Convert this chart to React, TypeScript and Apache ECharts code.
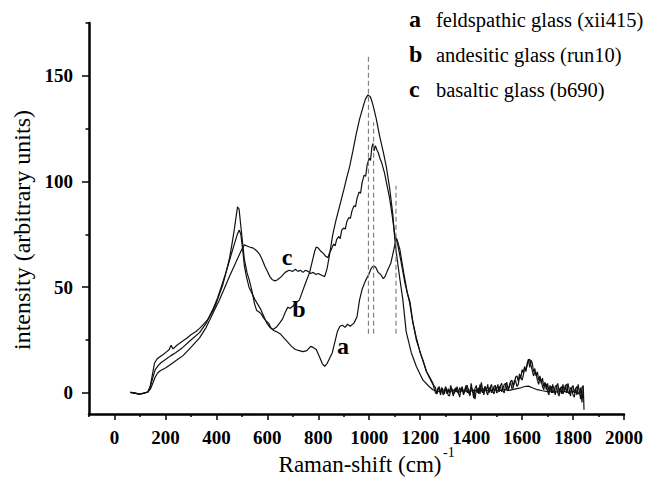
import React, { useEffect, useRef } from "react";
import * as echarts from "echarts";

const xMajorTicks = [0, 200, 400, 600, 800, 1000, 1200, 1400, 1600, 1800, 2000];
const xMinorTicks = [-100, 100, 300, 500, 700, 900, 1100, 1300, 1500, 1700, 1900];
const yMajorTicks = [0, 50, 100, 150];
const yMinorTicks = [25, 75, 125, 175];

const xTitle = "Raman-shift (cm)";
const xTitleSup = "-1";
const yTitle = "intensity (arbitrary units)";

const legendKeys = ["a", "b", "c"];
const legendNames = ["feldspathic glass (xii415)", "andesitic glass (run10)", "basaltic glass (b690)"];

// reference lines (x position, top value), all start at the same bottom value
const refLineX = [997, 1017, 1105];
const refLineTop = [160, 128, 98];
const refLineBottom = 28;

// a: feldspathic glass
const curveA: [number, number][] = [
  [62, 0.2], [80, 0], [98, -0.6], [115, -0.3], [131, 0.5], [140, 3], [148, 8], [157, 14], [167, 16], [177, 17],
  [190, 18], [205, 19.5], [215, 20.5], [222, 22.5], [230, 20.8], [245, 22.5], [268, 24.5], [285, 26], [300, 27.5],
  [320, 29], [334, 30.5], [350, 32.5], [365, 34.5], [380, 37.5], [395, 41], [410, 46], [425, 51], [440, 58],
  [452, 64], [462, 71], [470, 77], [477, 83], [483, 88], [489, 87], [495, 80], [502, 72], [510, 63], [520, 57],
  [530, 53], [540, 48], [550, 42], [558, 39], [565, 38.5], [575, 37.5], [585, 35.5], [595, 34], [605, 33],
  [615, 30.5], [625, 29.5], [635, 29], [650, 28], [665, 26], [680, 24], [695, 22], [710, 20.5], [725, 20],
  [740, 19.5], [755, 20], [770, 22], [780, 21.5], [792, 20.5], [805, 17], [815, 14], [825, 12.5], [835, 14],
  [845, 16.5], [855, 19], [865, 24], [875, 29], [885, 31.5], [895, 32], [905, 31], [915, 32.5], [925, 31.5],
  [940, 33], [952, 36], [962, 44], [972, 49], [985, 53], [998, 56], [1008, 59], [1016, 60], [1025, 59.5],
  [1035, 57], [1045, 56], [1055, 54], [1062, 55], [1072, 58], [1085, 61.5], [1095, 67], [1102, 71], [1108, 73],
  [1120, 68], [1135, 57], [1150, 47], [1160, 43], [1172, 33], [1185, 25], [1198, 20], [1211, 15], [1225, 10],
  [1237, 7], [1250, 4], [1260, 2.5], [1265, -0.5], [1270, 1.5], [1275, 3], [1280, 0], [1285, 2.5], [1290, -1],
  [1295, 1], [1300, 3], [1305, -0.5], [1310, 2], [1315, 0], [1320, 3.5], [1325, 1], [1330, -1.5], [1335, 2],
  [1340, 0.5], [1345, 3], [1350, -0.5], [1355, 2.5], [1360, 1], [1365, 3], [1370, -1], [1375, 1.5], [1380, 3.5],
  [1385, 0], [1390, 2], [1395, -1.5], [1400, 4.5], [1405, 1], [1410, -2.5], [1415, 2], [1420, 3.5], [1425, 0],
  [1430, 2.5], [1435, -0.5], [1440, 5], [1445, 1.5], [1450, -1], [1455, 3], [1460, 1], [1465, 4], [1470, 0],
  [1475, 2.5], [1480, 4], [1485, 0.5], [1490, -0.5], [1495, 3], [1500, 1.5], [1505, 4], [1510, 0.5], [1515, 3.5],
  [1520, 4.5], [1525, 1], [1530, 0], [1535, 3.5], [1540, 5], [1545, 1.5], [1550, 3], [1555, 5.5], [1560, 6],
  [1565, 3], [1570, 5], [1575, 7.5], [1580, 8], [1585, 5.5], [1590, 9], [1595, 7], [1600, 11], [1605, 9.5],
  [1610, 12.5], [1615, 10], [1620, 14], [1625, 16], [1630, 12], [1635, 15.5], [1640, 14], [1645, 10], [1650, 11.5],
  [1655, 8], [1660, 10], [1665, 6], [1670, 8], [1675, 4.5], [1680, 7], [1685, 3], [1690, 5], [1695, 1.5],
  [1700, 4.5], [1705, 1], [1710, 3.5], [1715, 0], [1720, 4], [1725, 1.5], [1730, -1], [1735, 3], [1740, 4.5],
  [1745, 0.5], [1750, 2.5], [1755, -0.5], [1760, 4], [1765, 1], [1770, 3], [1775, 0], [1780, 4.5], [1785, 1.5],
  [1790, -1.5], [1795, 2.5], [1800, 3.5], [1805, 0], [1810, 2], [1815, -1], [1820, 4], [1825, 0.5], [1830, -3],
  [1835, 2.5], [1840, 3.5], [1843, -8],
];

// b: andesitic glass
const curveB: [number, number][] = [
  [62, 0.2], [98, -0.6], [131, 0.4], [140, 2.5], [150, 7], [160, 11], [172, 13], [185, 14.5], [203, 16],
  [220, 17.5], [240, 19], [268, 21.5], [300, 25], [334, 28.5], [360, 33], [386, 39.5], [405, 45], [420, 50.5],
  [435, 56], [450, 62], [462, 67], [472, 71], [482, 75], [490, 77], [496, 75], [503, 68], [510, 60], [518, 55],
  [528, 50], [540, 47], [552, 44], [562, 42], [572, 40], [585, 36.5], [598, 33], [610, 31], [622, 30], [635, 31],
  [648, 33], [660, 35], [670, 38], [680, 40.5], [690, 40], [700, 41], [712, 42.5], [726, 44], [738, 48], [750, 52],
  [766, 57], [778, 63], [786, 67], [792, 69], [800, 68.5], [810, 67], [820, 66], [830, 64.5], [838, 64],
  [845, 66.5], [852, 68], [860, 70.5], [866, 69.5], [872, 72.5], [880, 74], [886, 73], [892, 77], [900, 78],
  [906, 77.5], [912, 81], [920, 83], [926, 82.5], [932, 86], [940, 88.5], [946, 88], [952, 92], [960, 95],
  [966, 94.5], [972, 99.5], [980, 103], [986, 102.5], [992, 108], [1000, 111], [1005, 110], [1010, 116],
  [1015, 118], [1019, 114.5], [1024, 117], [1030, 115], [1036, 113.5], [1042, 111], [1050, 108.5], [1060, 104],
  [1070, 98], [1080, 92], [1090, 84], [1100, 75], [1112, 70], [1125, 62], [1140, 52], [1158, 43], [1170, 34],
  [1185, 26], [1200, 19], [1211, 15.5], [1225, 10], [1237, 7.5], [1250, 4.5], [1255, 2], [1260, 0], [1265, -0.5],
  [1270, 2.5], [1275, 1.5], [1280, -1], [1285, 2.5], [1290, 0.5], [1295, -0.5], [1300, 2.5], [1305, 1], [1310, -1],
  [1315, -1.5], [1320, 1.5], [1325, 2], [1330, -0.5], [1335, 0], [1340, 2.5], [1345, 1], [1350, 0], [1355, -2],
  [1360, 1.5], [1365, 2.5], [1370, -0.5], [1375, 0.5], [1380, 3], [1385, 3.5], [1390, 0], [1395, -1], [1400, 2.5],
  [1405, 1.5], [1410, 0], [1415, -3], [1420, 1], [1425, 2], [1430, -0.5], [1435, 4], [1440, 1.5], [1445, 0],
  [1450, 2], [1455, 3], [1460, 0.5], [1465, -1], [1470, 2], [1475, 2.5], [1480, 0], [1485, 1], [1490, 3],
  [1495, 3.5], [1500, 0], [1505, 0.5], [1510, 2.5], [1515, 3], [1520, 0.5], [1525, 2], [1530, 4], [1535, 4.5],
  [1540, 1.5], [1545, 1], [1550, 3.5], [1555, 5], [1560, 2], [1565, 2.5], [1570, 6], [1575, 5.5], [1580, 3],
  [1585, 4], [1590, 7.5], [1595, 7], [1600, 6], [1605, 8.5], [1610, 12], [1615, 11], [1620, 13], [1625, 15],
  [1630, 16], [1635, 13], [1640, 10.5], [1645, 8], [1650, 10], [1655, 9], [1660, 6], [1665, 4], [1670, 7],
  [1675, 6], [1680, 3], [1685, 1.5], [1690, 4.5], [1695, 4], [1700, 1], [1705, -1], [1710, 2.5], [1715, 3],
  [1720, 0], [1725, 0.5], [1730, 3], [1735, 3.5], [1740, 0], [1745, -1.5], [1750, 2], [1755, 3], [1760, -0.5],
  [1765, 1], [1770, 3.5], [1775, 4], [1780, 0.5], [1785, -0.5], [1790, 2.5], [1795, 2], [1800, -1], [1805, -2],
  [1810, 2], [1815, 3], [1820, -0.5], [1825, 0], [1830, 2.5], [1835, -4.5], [1840, 2],
];

// c: basaltic glass
const curveC: [number, number][] = [
  [62, 0.2], [98, -0.6], [131, 0.3], [142, 2], [152, 5], [160, 7.5], [170, 9.5], [180, 10.5], [203, 12],
  [230, 14.3], [250, 16], [268, 17.5], [300, 21.5], [334, 26], [360, 31], [386, 37.5], [410, 43.5], [430, 49],
  [452, 55.3], [470, 60], [485, 64], [498, 67.5], [510, 70], [520, 69.5], [530, 69], [545, 68.5], [560, 67],
  [570, 65.5], [580, 63], [590, 60], [600, 57.5], [610, 55], [620, 53.5], [630, 53], [640, 53.5], [655, 55],
  [670, 57], [685, 58], [700, 57.5], [710, 58.5], [720, 57.5], [730, 58], [740, 57], [750, 58], [760, 57.5],
  [770, 56.5], [780, 57], [790, 56], [800, 56.5], [815, 55.5], [825, 55], [835, 59], [845, 66], [857, 75],
  [870, 82], [884, 88.5], [900, 96], [912, 102], [923, 107], [935, 114], [948, 122], [962, 129.5], [975, 135],
  [985, 139], [995, 141], [1005, 140], [1015, 136], [1027, 130], [1040, 122], [1055, 114], [1067, 107],
  [1080, 97], [1093, 84], [1100, 73], [1110, 63], [1120, 54], [1132, 44], [1145, 29], [1165, 19], [1185, 12.5],
  [1211, 6], [1235, 3], [1250, 1.5], [1270, 0.5], [1290, 1.5], [1310, 0.5], [1330, 1.2], [1350, 0.3],
  [1370, 1.2], [1390, 0.5], [1410, 1.3], [1430, 0.6], [1450, 1.4], [1470, 0.8], [1490, 1.5], [1510, 1],
  [1530, 1.6], [1550, 1.2], [1570, 1.8], [1590, 2.2], [1610, 3], [1625, 3.2], [1640, 2.4], [1660, 1.5],
  [1680, 1], [1700, 0.6], [1720, 1], [1740, 0.3], [1760, 0.8], [1780, 0.2], [1800, 0.7], [1820, -0.2], [1838, 0.5],
];

const curves = [curveA, curveB, curveC];

const SERIF = "Liberation Serif, Times New Roman, serif";

export default function App() {
  const ref = useRef<HTMLDivElement>(null);
  useEffect(() => {
    const chart = echarts.init(ref.current!, null, { renderer: "svg" });
    const axisCommon = {
      type: "value" as const,
      splitLine: { show: false },
    };
    const lineSeries = curves.map((d) => ({
      type: "line",
      data: d,
      showSymbol: false,
      symbol: "none",
      xAxisIndex: 0,
      yAxisIndex: 0,
      lineStyle: { color: "#111", width: 1.2 },
      silent: true,
    }));
    const refSeries = refLineX.map((x, i) => ({
      type: "line",
      data: [
        [x, refLineBottom],
        [x, refLineTop[i]],
      ],
      showSymbol: false,
      symbol: "none",
      lineStyle: { color: "#808080", width: 1.2, type: [5, 3] },
      silent: true,
    }));
    const txt = (text: string, x: number, y: number, size: number, bold: boolean, align: string, extra: any = {}) => ({
      type: "text",
      x,
      y,
      ...extra,
      style: {
        text,
        fontSize: size,
        fontFamily: SERIF,
        fontWeight: bold ? "bold" : "normal",
        fill: "#000",
        align,
        verticalAlign: "middle",
      },
    });
    const tickLabel = {
      formatter: (v: number) => String(v),
      color: "#000",
      fontSize: 19,
      fontWeight: "bold",
      fontFamily: SERIF,
    };
    chart.setOption({
      animation: false,
      backgroundColor: "#fff",
      textStyle: { fontFamily: SERIF },
      grid: { left: 89, right: 26, top: 23, bottom: 69 },
      xAxis: [
        {
          ...axisCommon,
          min: -100,
          max: 2000,
          position: "bottom",
          axisLine: { onZero: false, lineStyle: { color: "#000", width: 2.5 } },
          axisTick: { customValues: xMajorTicks, length: 6, lineStyle: { color: "#000", width: 1.5 } },
          axisLabel: { ...tickLabel, customValues: xMajorTicks, margin: 14 },
        },
        {
          ...axisCommon,
          min: -100,
          max: 2000,
          position: "bottom",
          axisLine: { show: false, onZero: false },
          axisTick: { customValues: xMinorTicks, length: 3, lineStyle: { color: "#000", width: 1.5 } },
          axisLabel: { show: false },
        },
      ],
      yAxis: [
        {
          ...axisCommon,
          min: -10,
          max: 175,
          position: "left",
          axisLine: { onZero: false, lineStyle: { color: "#000", width: 2.5 } },
          axisTick: { customValues: yMajorTicks, length: 7, lineStyle: { color: "#000", width: 1.5 } },
          axisLabel: { ...tickLabel, customValues: yMajorTicks, margin: 16 },
        },
        {
          ...axisCommon,
          min: -10,
          max: 175,
          position: "left",
          axisLine: { show: false, onZero: false },
          axisTick: { customValues: yMinorTicks, length: 3.5, lineStyle: { color: "#000", width: 1.5 } },
          axisLabel: { show: false },
        },
      ],
      graphic: [
        txt(yTitle, 22, 230, 24, false, "center", { rotation: Math.PI / 2 }),
        txt(xTitle, 360, 464, 23, false, "center"),
        txt(xTitleSup, 443, 452, 14, false, "left"),
        ...legendKeys.flatMap((k, i) => [
          txt(k, 409, 19 + i * 35, 24, true, "left"),
          txt(legendNames[i], 436, 20 + i * 35, 20.5, false, "left"),
        ]),
        txt("c", 287, 257, 24, true, "center"),
        txt("b", 299, 309, 24, true, "center"),
        txt("a", 343, 346, 24, true, "center"),
      ],
      series: [...lineSeries, ...refSeries],
    });
    return () => chart.dispose();
  }, []);
  return <div ref={ref} style={{ position: "fixed", left: 0, top: 0, width: 650, height: 483 }} />;
}
